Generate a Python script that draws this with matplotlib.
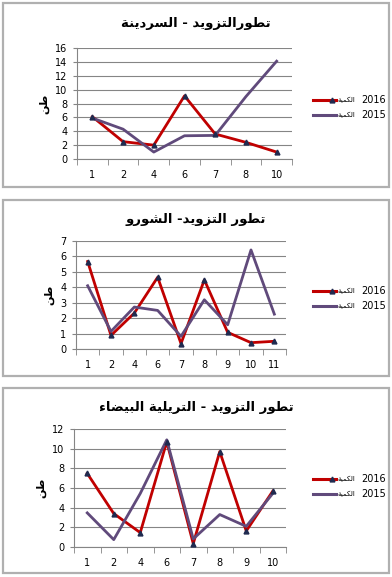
import matplotlib.pyplot as plt
from matplotlib.patches import Rectangle

# chart data
titles = ["تطورالتزويد - السردينة", "تطور التزويد- الشورو", "تطور التزويد - التريلية البيضاء"]
cats1 = ["1", "2", "4", "6", "7", "8", "10"]
y2016_1 = [6.1, 2.5, 2.0, 9.1, 3.6, 2.4, 1.0]
y2015_1 = [5.9, 4.3, 1.0, 3.35, 3.4, 9.0, 14.1]

cats2 = ["1", "2", "4", "6", "7", "8", "9", "10", "11"]
y2016_2 = [5.67, 0.88, 2.33, 4.65, 0.35, 4.48, 1.08, 0.41, 0.5]
y2015_2 = [4.1, 1.14, 2.72, 2.5, 0.82, 3.19, 1.57, 6.42, 2.26]

cats3 = ["1", "2", "4", "6", "7", "8", "9", "10"]
y2016_3 = [7.48, 3.4, 1.46, 10.7, 0.34, 9.7, 1.63, 5.68]
y2015_3 = [3.47, 0.75, 5.44, 10.9, 0.82, 3.3, 2.1, 5.44]

ymax = [16, 7, 12]
ystep = [2, 1, 2]
ylabel = "طن"
series_word = "الكمية"
years = ["2016", "2015"]

# minimal arabic shaping (matplotlib draws no contextual forms)
FORMS = {
    'ا': (0xFE8D, 0xFE8E, None, None), 'ب': (0xFE8F, 0xFE90, 0xFE91, 0xFE92),
    'ة': (0xFE93, 0xFE94, None, None), 'ت': (0xFE95, 0xFE96, 0xFE97, 0xFE98),
    'د': (0xFEA9, 0xFEAA, None, None), 'ر': (0xFEAD, 0xFEAE, None, None),
    'ز': (0xFEAF, 0xFEB0, None, None), 'س': (0xFEB1, 0xFEB2, 0xFEB3, 0xFEB4),
    'ش': (0xFEB5, 0xFEB6, 0xFEB7, 0xFEB8), 'ض': (0xFEBD, 0xFEBE, 0xFEBF, 0xFEC0),
    'ط': (0xFEC1, 0xFEC2, 0xFEC3, 0xFEC4), 'ك': (0xFED9, 0xFEDA, 0xFEDB, 0xFEDC),
    'ل': (0xFEDD, 0xFEDE, 0xFEDF, 0xFEE0), 'م': (0xFEE1, 0xFEE2, 0xFEE3, 0xFEE4),
    'ن': (0xFEE5, 0xFEE6, 0xFEE7, 0xFEE8), 'و': (0xFEED, 0xFEEE, None, None),
    'ي': (0xFEF1, 0xFEF2, 0xFEF3, 0xFEF4), 'ء': (0xFE80, None, None, None),
}


def shape(s):
    out = []
    for i, c in enumerate(s):
        if c not in FORMS:
            out.append(c)
            continue
        iso, fin, ini, med = FORMS[c]
        prev = s[i - 1] if i > 0 else ''
        nxt = s[i + 1] if i + 1 < len(s) else ''
        jp = prev in FORMS and FORMS[prev][2] is not None and fin is not None
        jn = nxt in FORMS and FORMS[nxt][1] is not None and ini is not None
        if jp and jn:
            f = med
        elif jp:
            f = fin
        elif jn:
            f = ini
        else:
            f = iso
        out.append(chr(f))
    return ''.join(out)[::-1]


RED = '#C00000'
PURPLE = '#604A7B'
GRID = '#858585'
MARK = '#1F2A4F'

fig = plt.figure(figsize=(3.92, 5.77), dpi=100)
W, H = 392, 577

# pixel boxes: frame (x0, y0, x1, y1), axes (x0, y_top, x1, y_bottom), title y, legend y
panels = [
    dict(frame=(3, 3, 389, 187), ax=(77, 48, 292, 159), ty=23, ly=100),
    dict(frame=(3, 200, 389, 376), ax=(76, 241, 286, 349), ty=219, ly=291),
    dict(frame=(3, 388, 389, 573), ax=(74, 429, 286, 547), ty=408, ly=479),
]
data = [(cats1, y2016_1, y2015_1), (cats2, y2016_2, y2015_2), (cats3, y2016_3, y2015_3)]

for k, p in enumerate(panels):
    fx0, fy0, fx1, fy1 = p['frame']
    fig.patches.append(Rectangle((fx0 / W, 1 - fy1 / H), (fx1 - fx0) / W, (fy1 - fy0) / H,
                                 transform=fig.transFigure, fill=False,
                                 edgecolor='#b0b0b0', linewidth=1.6))
    x0, yt, x1, yb = p['ax']
    ax = fig.add_axes([x0 / W, 1 - yb / H, (x1 - x0) / W, (yb - yt) / H])
    cats, a, b = data[k]
    xs = list(range(len(cats)))
    ax.plot(xs, a, color=RED, lw=2.0, zorder=3)
    ax.plot(xs, b, color=PURPLE, lw=2.0, zorder=4)
    ax.plot(xs, a, linestyle='none', marker='^', ms=3.5, color=MARK, zorder=5)
    ax.set_xlim(-0.5, len(cats) - 0.5)
    ax.set_ylim(0, ymax[k])
    ax.set_yticks(range(0, ymax[k] + 1, ystep[k]))
    ax.set_xticks(xs)
    ax.set_xticklabels(cats)
    ax.set_xticks([i - 0.5 for i in range(len(cats) + 1)], minor=True)
    ax.tick_params(axis='x', which='major', length=0, pad=8, labelsize=7)
    ax.tick_params(axis='x', which='minor', length=4, color=GRID)
    ax.tick_params(axis='y', length=3, color=GRID, labelsize=7, pad=4)
    ax.grid(axis='y', color=GRID, lw=0.8)
    ax.set_axisbelow(True)
    for s in ['top', 'right']:
        ax.spines[s].set_visible(False)
    for s in ['left', 'bottom']:
        ax.spines[s].set_color(GRID)
    ax.set_ylabel(shape(ylabel), fontsize=8, fontweight='bold', labelpad=4)

    fig.text((fx0 + fx1) / 2 / W, 1 - p['ty'] / H, shape(titles[k]),
             ha='center', va='center', fontsize=9.5, fontweight='bold')

    for j, (yr, col) in enumerate(zip(years, [RED, PURPLE])):
        ly = 1 - (p['ly'] + j * 15) / H
        fig.add_artist(plt.Line2D([313 / W, 336 / W], [ly, ly], color=col, lw=2.2,
                                  transform=fig.transFigure))
        if j == 0:
            fig.add_artist(plt.Line2D([332 / W], [ly], marker='^', ms=3.5, color=MARK,
                                      transform=fig.transFigure))
        fig.text(337 / W, ly, shape(series_word), ha='left', va='center', fontsize=5)
        fig.text(386 / W, ly, yr, ha='right', va='center', fontsize=7)

fig.savefig("out.png", dpi=100)
